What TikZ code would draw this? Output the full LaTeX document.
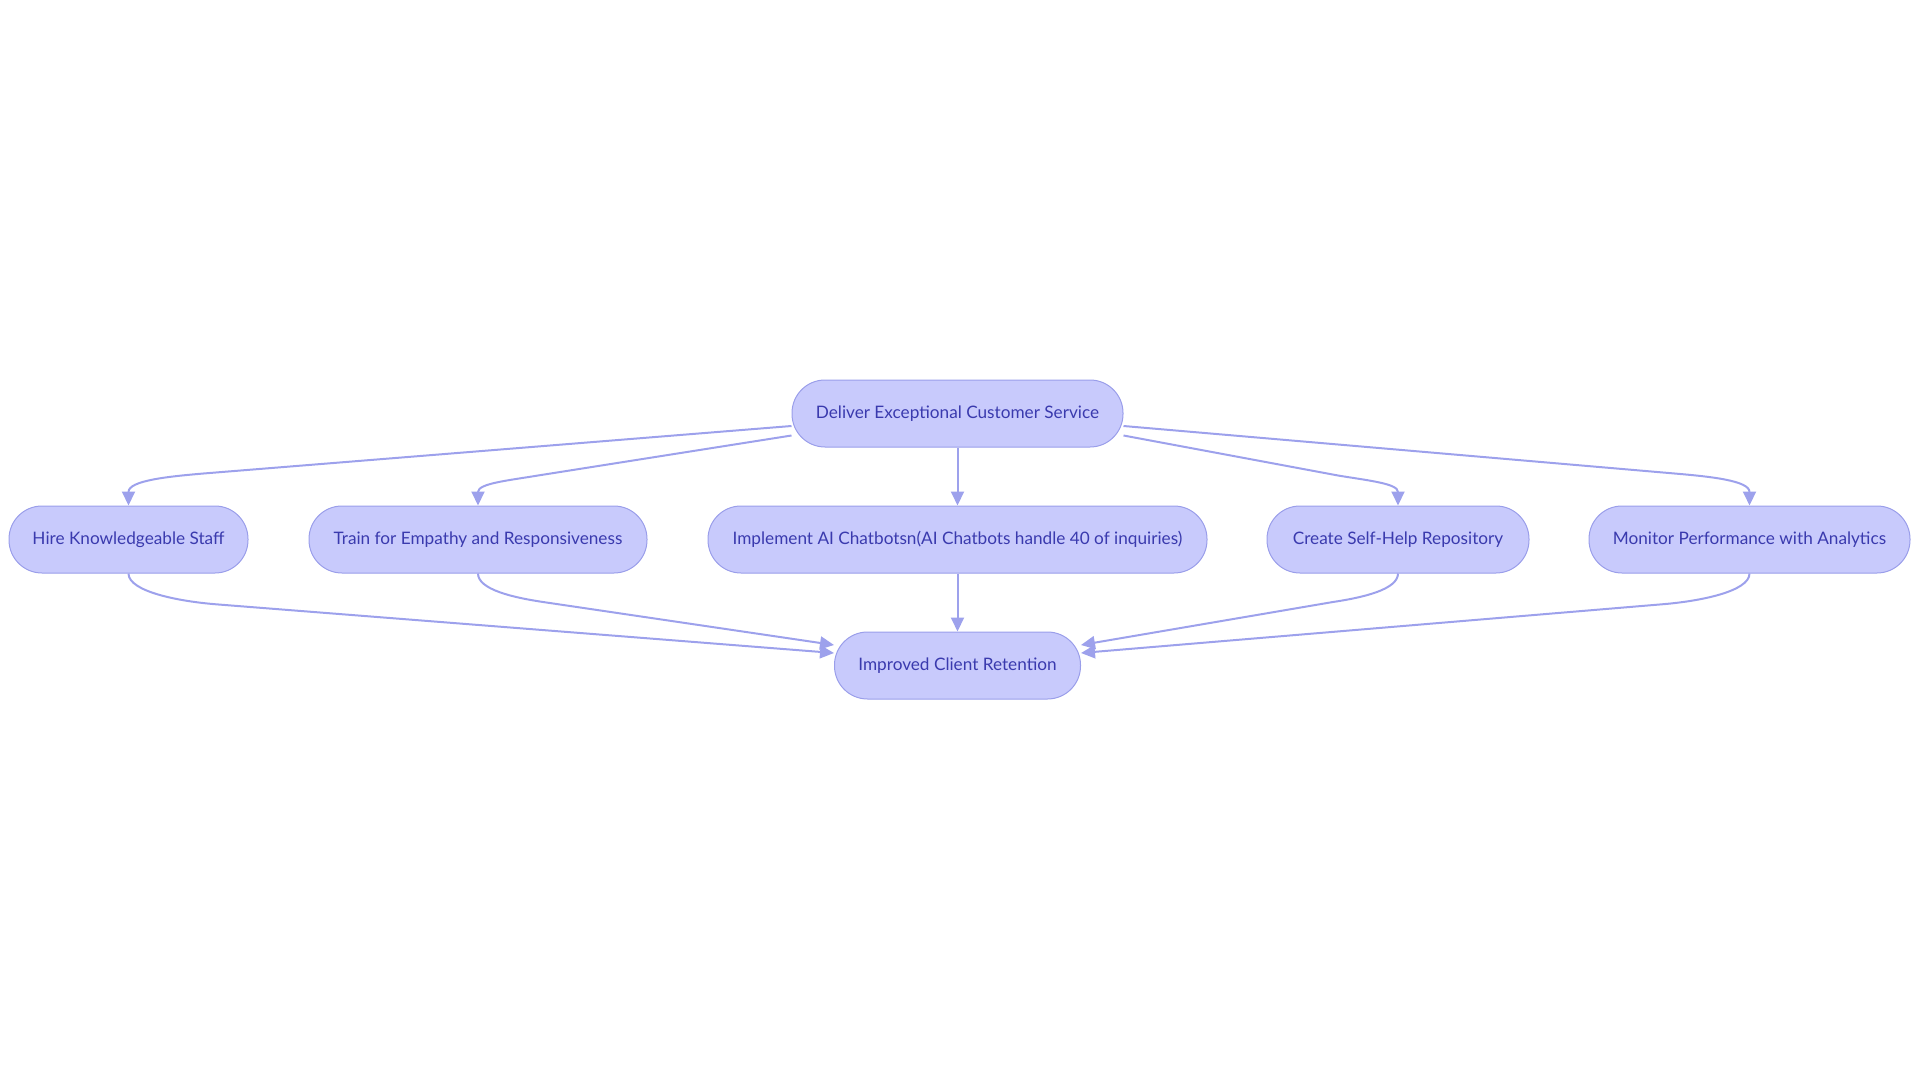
\documentclass[tikz,border=0pt]{standalone}
\usepackage{fontspec}
\setmainfont{Lato}
\usepackage{xcolor}
\usepackage{tikz}
\usetikzlibrary{calc,arrows.meta}
\definecolor{FlowFill}{HTML}{C8CAFC}
\definecolor{FlowLine}{HTML}{9A9EEA}
\definecolor{FlowEdge}{HTML}{9DA1EC}
\definecolor{FlowText}{HTML}{3A3AAE}

\begin{document}
\begin{tikzpicture}[x=1pt, y=-1pt, every node/.style={font=\fontsize{17.2}{20}\selectfont}]
    \tikzstyle{pill}=[draw=FlowLine, fill=FlowFill, text=FlowText, line width=1pt,
                      rounded corners=33pt, minimum height=67pt, inner sep=0pt, align=center]
    \tikzstyle{link}=[line width=2pt, color=FlowEdge,
                      -{Triangle[length=14pt, width=13pt]}]

    \useasboundingbox (0,0) rectangle (1920,1083);

    \node[pill, minimum width=331pt] (deliver) at (957.5,413.5) {Deliver Exceptional Customer Service};
    \node[pill, minimum width=239pt] (hire) at (128.5,539.5) {Hire Knowledgeable Staff};
    \node[pill, minimum width=338pt] (train) at (478,539.5) {Train for Empathy and Responsiveness};
    \node[pill, minimum width=499pt] (chatbots) at (957.5,539.5) {Implement AI Chatbotsn(AI Chatbots handle 40 of inquiries)};
    \node[pill, minimum width=262pt] (selfhelp) at (1398,539.5) {Create Self-Help Repository};
    \node[pill, minimum width=321pt] (monitor) at (1749.5,539.5) {Monitor Performance with Analytics};
    \node[pill, minimum width=246pt] (retention) at (957.5,665.5) {Improved Client Retention};

    % top level to the five actions
    \draw[link] ([yshift=-12.5pt]deliver.west) -- ($(hire.north)+(75,-32)$)
        .. controls ($(hire.north)+(40,-29)$) and ($(hire.north)+(0,-25)$) .. (hire.north);
    \draw[link] ([yshift=-22pt]deliver.west) -- ($(train.north)+(60,-30)$)
        .. controls ($(train.north)+(30,-25)$) and ($(train.north)+(0,-22)$) .. (train.north);
    \draw[link] (deliver) -- (chatbots);
    \draw[link] ([yshift=-22pt]deliver.east) -- ($(selfhelp.north)+(-60,-30)$)
        .. controls ($(selfhelp.north)+(-30,-25)$) and ($(selfhelp.north)+(0,-22)$) .. (selfhelp.north);
    \draw[link] ([yshift=-12.5pt]deliver.east) -- ($(monitor.north)+(-75,-32)$)
        .. controls ($(monitor.north)+(-40,-29)$) and ($(monitor.north)+(0,-25)$) .. (monitor.north);

    % five actions into retention
    \draw[link] (hire.south) .. controls ($(hire.south)+(0,18)$) and ($(hire.south)+(50,28)$)
        .. ($(hire.south)+(90,31)$) -- ([yshift=12.5pt]retention.west);
    \draw[link] (train.south) .. controls ($(train.south)+(0,16)$) and ($(train.south)+(35,24)$)
        .. ($(train.south)+(65,28.5)$) -- ([yshift=20.5pt]retention.west);
    \draw[link] (chatbots) -- (retention);
    \draw[link] (selfhelp.south) .. controls ($(selfhelp.south)+(0,16)$) and ($(selfhelp.south)+(-35,24)$)
        .. ($(selfhelp.south)+(-65,28.5)$) -- ([yshift=20.5pt]retention.east);
    \draw[link] (monitor.south) .. controls ($(monitor.south)+(0,18)$) and ($(monitor.south)+(-50,28)$)
        .. ($(monitor.south)+(-90,31)$) -- ([yshift=12.5pt]retention.east);

  \end{tikzpicture}
\end{document}
